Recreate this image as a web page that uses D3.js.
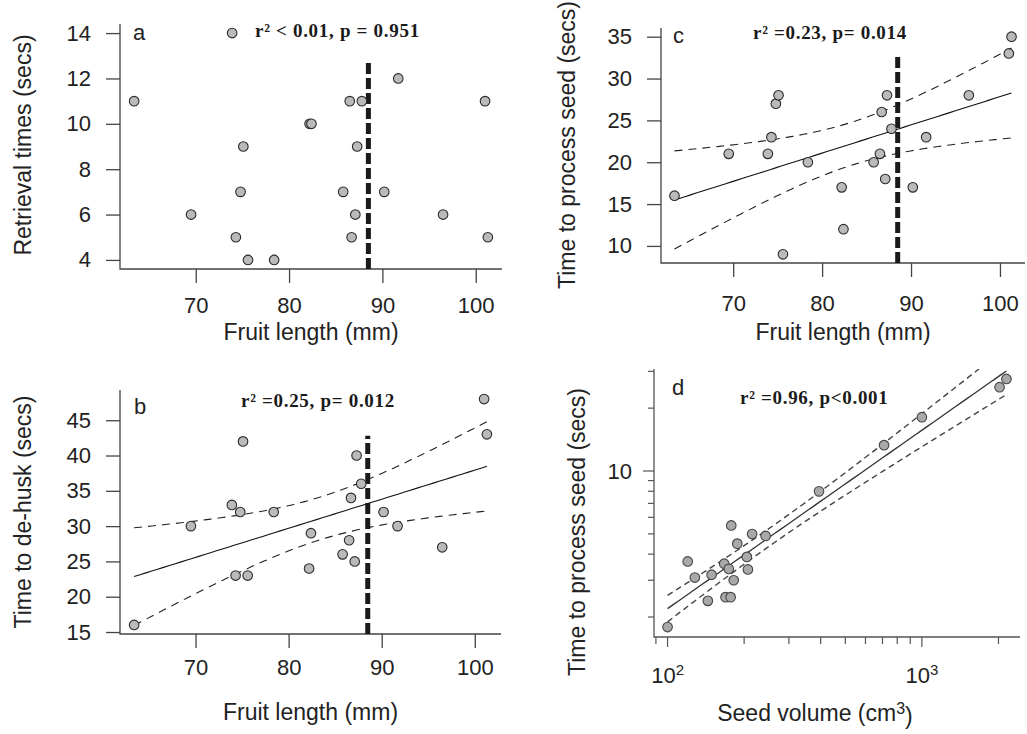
<!DOCTYPE html>
<html>
<head>
<meta charset="utf-8">
<script src="https://cdn.jsdelivr.net/npm/d3@7"></script>
<style>
  body { margin: 0; background: #fff; }
  svg { display: block; }
  text { font-family: "Liberation Sans", Arial, sans-serif; fill: #222; }
  .stat { font-family: "Liberation Serif", "Times New Roman", serif; font-weight: bold; }
</style>
</head>
<body>
<svg id="fig" width="1027" height="734"></svg>
<script>
// ---- data -------------------------------------------------------------
// Fruit length (mm) of each fruit, shared by panels a-c
const fruitLength   = [63.4, 69.5, 73.9, 74.3, 74.8, 75.1, 75.6, 78.4, 82.2, 82.4, 85.8,
                       86.5, 86.7, 87.1, 87.3, 87.8, 90.2, 91.7, 96.5, 101.0, 101.3];
// a: retrieval times (secs)
const retrievalTime = [11, 6, 14, 5, 7, 9, 4, 4, 10, 10, 7, 11, 5, 6, 9, 11, 7, 12, 6, 11, 5];
// b: time to de-husk (secs)
const dehuskTime    = [16, 30, 33, 23, 32, 42, 23, 32, 24, 29, 26, 28, 34, 25, 40, 36, 32, 30, 27, 48, 43];
// c: time to process seed (secs)
const processTime   = [16, 21, 21, 23, 27, 28, 9, 20, 17, 12, 20, 21, 26, 18, 28, 24, 17, 23, 28, 33, 35];
// d: seed volume (cm3) against time to process seed (log-log)
const seedVolume    = [100, 120, 128, 144, 149, 167, 169, 177, 174, 182, 178, 188, 205, 207,
                       215, 243, 394, 710, 1000, 2020, 2150];
const seedProcTime  = [1.79, 3.69, 3.09, 2.39, 3.19, 3.60, 2.49, 2.49, 3.40, 3.00, 5.49, 4.49,
                       3.88, 3.38, 4.99, 4.89, 7.99, 13.3, 18.1, 25.2, 27.6];

// tick values
const fruitTicks     = [70, 80, 90, 100];
const retrievalTicks = [4, 6, 8, 10, 12, 14];
const dehuskTicks    = [15, 20, 25, 30, 35, 40, 45];
const processTicks   = [10, 15, 20, 25, 30, 35];
const volumeMajor    = [100, 1000];
const volumeMajorExp = ["2", "3"];
const volumeMinor    = [90, 200, 300, 400, 500, 600, 700, 800, 900, 2000];
const timeLogMajor   = [10];
const timeLogMinor   = [2, 3, 4, 5, 6, 7, 8, 9, 20, 30];

// threshold fruit length and the top of its marker in each panel
const cutoffLength = 88.5;
const cutoffTop    = [12.8, 42.8, 33.0];

const panelLetters = ["a", "b", "c", "d"];
const statLabels   = ["r\u00B2 < 0.01, p = 0.951", "r\u00B2 =0.25, p= 0.012",
                      "r\u00B2 =0.23, p= 0.014", "r\u00B2 =0.96, p<0.001"];
const yTitles = ["Retrieval times (secs)", "Time to de-husk (secs)",
                 "Time to process seed (secs)", "Time to process seed (secs)"];

// two-sided 95% t quantile for n - 2 = 19 degrees of freedom
const T_CRIT = 2.093;

// ---- helpers ----------------------------------------------------------
const svg = d3.select("#fig");
svg.append("rect").attr("width", 1027).attr("height", 734).attr("fill", "#fff");

const TICK_FONT = 22, TITLE_FONT = 23;

// R-style axis range: data extent widened by 4%
function padExtent(vals) {
  const [lo, hi] = d3.extent(vals);
  const p = (hi - lo) * 0.04;
  return [lo - p, hi + p];
}

// ordinary least squares fit with 95% confidence band for the mean
function olsFit(xs, ys) {
  const n = xs.length, mx = d3.mean(xs), my = d3.mean(ys);
  let sxx = 0, sxy = 0;
  xs.forEach((x, i) => { sxx += (x - mx) ** 2; sxy += (x - mx) * (ys[i] - my); });
  const b = sxy / sxx, a = my - b * mx;
  let sse = 0;
  xs.forEach((x, i) => { sse += (ys[i] - a - b * x) ** 2; });
  const s = Math.sqrt(sse / (n - 2));
  const fit = x => a + b * x;
  const half = x => T_CRIT * s * Math.sqrt(1 / n + (x - mx) ** 2 / sxx);
  return { fit, half, lo: d3.min(xs), hi: d3.max(xs) };
}

const AXIS = "#444";

function lShape(g, box) {
  g.append("path")
    .attr("d", `M${box.left},${box.top}V${box.bottom}H${box.right}`)
    .attr("fill", "none").attr("stroke", AXIS).attr("stroke-width", 1.3);
}

function styleAxis(sel) {
  sel.select(".domain").remove();
  sel.selectAll(".tick line").attr("stroke", AXIS).attr("stroke-width", 1.3);
  sel.selectAll(".tick text").attr("font-size", TICK_FONT).attr("fill", "#222")
     .attr("font-family", "Liberation Sans, Arial, sans-serif");
}

function addTitles(g, box, cfg, idx) {
  g.append("text")
    .attr("x", (box.left + box.right) / 2 + (cfg.xTitleShift || 0)).attr("y", cfg.xTitleY)
    .attr("dy", "0.35em").attr("text-anchor", "middle").attr("font-size", TITLE_FONT)
    .call(t => {
      if (cfg.xTitleSup) {
        t.append("tspan").text(cfg.xTitle);
        t.append("tspan").attr("dy", "-0.45em").attr("font-size", 16).text(cfg.xTitleSup);
        t.append("tspan").attr("dy", "0.45em").text(")");
      } else t.text(cfg.xTitle);
    });
  g.append("text")
    .attr("transform", `translate(${cfg.yTitleX},${cfg.yTitleY}) rotate(-90)`)
    .attr("dy", "0.35em").attr("text-anchor", "middle").attr("font-size", TITLE_FONT)
    .text(yTitles[idx]);
  g.append("text").attr("x", cfg.letterX).attr("y", cfg.letterY).attr("dy", "0.35em")
    .attr("font-size", 22).text(panelLetters[idx]);
  g.append("text").attr("class", "stat").attr("x", cfg.statX).attr("y", cfg.statY)
    .attr("dy", "0.35em").attr("font-size", 19).attr("letter-spacing", 0.7)
    .style("fill", "#1a1a1a").text(statLabels[idx]);
}

function drawPoints(g, pts, x, y) {
  g.append("g").selectAll("circle").data(pts).join("circle")
    .attr("cx", d => x(d[0])).attr("cy", d => y(d[1])).attr("r", 4.8)
    .attr("fill", "#bababa").attr("stroke", "#2a2a2a").attr("stroke-width", 1.1);
}

// ---- linear panels a, b, c -------------------------------------------
const linearPanels = [
  { ys: retrievalTime, yTicks: retrievalTicks, fit: false,
    box: { left: 120, right: 502, top: 24, bottom: 269 },
    xLabelY: 305, xTitleY: 332, yTitleX: 23, yTitleY: 145,
    letterX: 133, letterY: 32, statX: 255, statY: 30, xTitle: "Fruit length (mm)" },
  { ys: dehuskTime, yTicks: dehuskTicks, fit: true,
    box: { left: 120, right: 501, top: 390, bottom: 634 },
    xLabelY: 667, xTitleY: 712, yTitleX: 23, yTitleY: 512,
    letterX: 134, letterY: 406, statX: 241, statY: 400, xTitle: "Fruit length (mm)" },
  { ys: processTime, yTicks: processTicks, fit: true,
    box: { left: 661, right: 1025, top: 28, bottom: 263 },
    xLabelY: 303, xTitleY: 332, yTitleX: 567, yTitleY: 145,
    letterX: 673, letterY: 35, statX: 753, statY: 32, xTitle: "Fruit length (mm)" }
];

linearPanels.forEach((cfg, idx) => {
  const box = cfg.box;
  const g = svg.append("g");
  const x = d3.scaleLinear().domain(padExtent(fruitLength)).range([box.left, box.right]);
  const y = d3.scaleLinear().domain(padExtent(cfg.ys)).range([box.bottom, box.top]);

  const xa = g.append("g").attr("transform", `translate(0,${box.bottom})`)
    .call(d3.axisBottom(x).tickValues(fruitTicks).tickSize(14).tickSizeOuter(0));
  styleAxis(xa);
  xa.selectAll(".tick text").attr("y", cfg.xLabelY - box.bottom).attr("dy", "0.35em");

  const ya = g.append("g").attr("transform", `translate(${box.left},0)`)
    .call(d3.axisLeft(y).tickValues(cfg.yTicks).tickSize(14).tickSizeOuter(0).tickPadding(15));
  styleAxis(ya);
  lShape(g, box);

  if (cfg.fit) {
    const m = olsFit(fruitLength, cfg.ys);
    const xsLine = d3.range(0, 61).map(i => m.lo + (m.hi - m.lo) * i / 60);
    const line = d3.line().x(d => x(d[0])).y(d => y(d[1]));
    g.append("path").attr("d", line(xsLine.map(v => [v, m.fit(v)])))
      .attr("fill", "none").attr("stroke", "#111").attr("stroke-width", 1.1);
    [1, -1].forEach(sgn => {
      g.append("path").attr("d", line(xsLine.map(v => [v, m.fit(v) + sgn * m.half(v)])))
        .attr("fill", "none").attr("stroke", "#222").attr("stroke-width", 1.1)
        .attr("stroke-dasharray", "8,6");
    });
  }

  // threshold marker
  g.append("line")
    .attr("x1", x(cutoffLength)).attr("x2", x(cutoffLength))
    .attr("y1", box.bottom).attr("y2", y(cutoffTop[idx]))
    .attr("stroke", "#1a1a1a").attr("stroke-width", 5).attr("stroke-dasharray", "11,4");

  drawPoints(g, fruitLength.map((v, i) => [v, cfg.ys[i]]), x, y);
  addTitles(g, box, cfg, idx);
});

// ---- log-log panel d --------------------------------------------------
(() => {
  const cfg = { box: { left: 654, right: 1020, top: 369, bottom: 637 },
    xTitleY: 713, xTitleShift: -22, yTitleX: 577, yTitleY: 532,
    letterX: 672, letterY: 387, statX: 740, statY: 397,
    xTitle: "Seed volume (cm", xTitleSup: "3" };
  const box = cfg.box;
  const g = svg.append("g");
  const lx = seedVolume.map(Math.log10), ly = seedProcTime.map(Math.log10);
  const x = d3.scaleLog().domain(padExtent(lx).map(v => 10 ** v)).range([box.left, box.right]);
  const y = d3.scaleLog().domain(padExtent(ly).map(v => 10 ** v)).range([box.bottom, box.top]);

  // ticks
  const tickG = g.append("g").attr("stroke", "#555").attr("stroke-width", 1.2);
  volumeMinor.forEach(v => tickG.append("line").attr("x1", x(v)).attr("x2", x(v))
    .attr("y1", box.bottom).attr("y2", box.bottom + 7));
  volumeMajor.forEach(v => tickG.append("line").attr("x1", x(v)).attr("x2", x(v))
    .attr("y1", box.bottom).attr("y2", box.bottom + 10));
  timeLogMinor.forEach(v => tickG.append("line").attr("y1", y(v)).attr("y2", y(v))
    .attr("x1", box.left).attr("x2", box.left - 6));
  timeLogMajor.forEach(v => tickG.append("line").attr("y1", y(v)).attr("y2", y(v))
    .attr("x1", box.left).attr("x2", box.left - 11));

  volumeMajor.forEach((v, i) => {
    const t = g.append("text").attr("x", x(v)).attr("y", 675).attr("dy", "0.35em")
      .attr("text-anchor", "middle").attr("font-size", TICK_FONT);
    t.append("tspan").text("10");
    t.append("tspan").attr("dy", "-0.5em").attr("font-size", 15).text(volumeMajorExp[i]);
  });
  timeLogMajor.forEach(v => g.append("text").attr("x", box.left - 22).attr("y", y(v))
    .attr("dy", "0.35em").attr("text-anchor", "end").attr("font-size", TICK_FONT).text(v));

  g.append("path")
    .attr("d", `M${box.left},${box.top}V${box.bottom}H${box.right}`)
    .attr("fill", "none").attr("stroke", "#555").attr("stroke-width", 1.3);

  // fit in log space, clipped to the plot box
  g.append("clipPath").attr("id", "clipD").append("rect")
    .attr("x", box.left).attr("y", box.top)
    .attr("width", box.right - box.left).attr("height", box.bottom - box.top);
  const m = olsFit(lx, ly);
  const grid = d3.range(0, 61).map(i => m.lo + (m.hi - m.lo) * i / 60);
  const line = d3.line().x(d => x(10 ** d[0])).y(d => y(10 ** d[1]));
  const fg = g.append("g").attr("clip-path", "url(#clipD)");
  fg.append("path").attr("d", line(grid.map(v => [v, m.fit(v)])))
    .attr("fill", "none").attr("stroke", "#333").attr("stroke-width", 1.3);
  [1, -1].forEach(sgn => {
    fg.append("path").attr("d", line(grid.map(v => [v, m.fit(v) + sgn * m.half(v)])))
      .attr("fill", "none").attr("stroke", "#444").attr("stroke-width", 1.4)
      .attr("stroke-dasharray", "6,4");
  });

  drawPoints(g, seedVolume.map((v, i) => [v, seedProcTime[i]]), x, y);
  g.selectAll("circle").attr("fill", "#a9a9a9").attr("stroke", "#444");
  addTitles(g, box, cfg, 3);
})();
</script>
</body>
</html>
